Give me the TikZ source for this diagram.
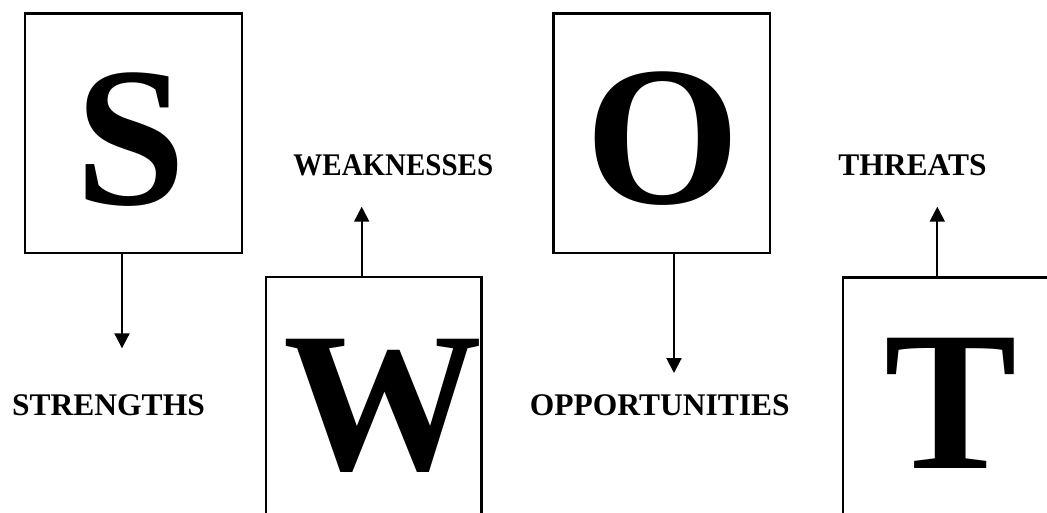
\documentclass[tikz,border=0pt]{standalone}
\usepackage{fontspec}
\usepackage{graphicx}
\setmainfont{Liberation Serif}
\usetikzlibrary{arrows.meta}
\tikzset{
  boxnode/.style={draw=black, line width=2.4pt, rectangle, inner sep=0pt},
  bigletter/.style={font=\fontsize{199}{199}\selectfont\bfseries, inner sep=0pt, anchor=base},
  lbl/.style={font=\fontsize{31.5}{31.5}\selectfont\bfseries, inner sep=0pt, anchor=base},
  arr/.style={line width=2pt, -{Triangle[width=15pt,length=15pt]}}
}
\begin{document}
\begin{tikzpicture}[x=1pt,y=-1pt]
\useasboundingbox (0,0) rectangle (1047,512);
\clip (0,0) rectangle (1047,512);
\fill[white] (0,0) rectangle (1047,512);
% boxes
\node[boxnode, minimum width=216.7pt, minimum height=239.7pt] (boxS) at (133.5,133.2) {};
\node[boxnode, minimum width=216.7pt, minimum height=239.7pt] (boxO) at (661.7,133.2) {};
\node[boxnode, minimum width=215.7pt, minimum height=260pt] (boxW) at (373.8,406.7) {};
\node[boxnode, minimum width=230pt, minimum height=260pt] (boxT) at (957.7,407.3) {};
% big letters
\node[bigletter] (letS) at (131,204) {S};
\node[bigletter] (letO) at (662.4,203.5) {O};
\node[bigletter] (letW) at (382.5,469) {W};
\node[bigletter] (letT) at (950.8,468) {T};
% labels
\node[lbl] (lblS) at (108.5,415) {STRENGTHS};
\node[lbl] (lblW) at (393.3,175) {\scalebox{0.92}[1]{WEAKNESSES}};
\node[lbl] (lblO) at (659.8,415) {OPPORTUNITIES};
\node[lbl] (lblT) at (912.5,175) {THREATS};
% arrow tips
\coordinate (tipS) at (122,348.3);
\coordinate (tipW) at (361.7,206.7);
\coordinate (tipO) at (674,373);
\coordinate (tipT) at (937.3,206.7);
% arrows
\draw[arr] (boxS.south -| tipS) -- (tipS);
\draw[arr] (boxW.north -| tipW) -- (tipW);
\draw[arr] (boxO.south -| tipO) -- (tipO);
\draw[arr] (boxT.north -| tipT) -- (tipT);
\end{tikzpicture}
\end{document}
